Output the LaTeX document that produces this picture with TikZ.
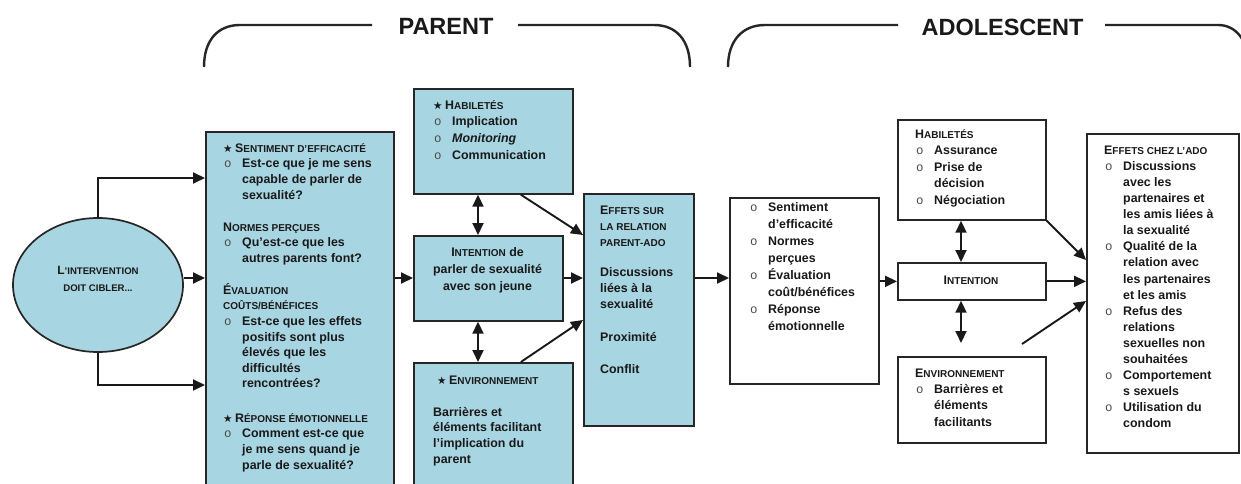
\documentclass[tikz,border=0pt]{standalone}
\usepackage{fontspec}
\setmainfont{Liberation Sans}
\newfontfamily\monof{Liberation Mono}
\newfontfamily\symf{DejaVu Sans}
\usetikzlibrary{arrows.meta,shapes.geometric}
\definecolor{boxblue}{RGB}{168,213,226}
\newcommand\bu{\makebox[19pt][l]{\hspace{1pt}{\monof\mdseries\color{black!70}o}}}
\newcommand\cn{\hspace*{19pt}}
\newcommand\st{{\symf\fontsize{10.5}{10}\selectfont ★}\hspace{2.5pt}}
\newcommand\scH[2]{#1{\fontsize{10}{10}\selectfont #2}}
\newcommand\fst{\rule{0pt}{11.5pt}}
\begin{document}
\begin{tikzpicture}[x=1pt,y=-1pt,
  bluebox/.style={draw=black!85,line width=1.7pt,fill=boxblue,inner sep=0pt,anchor=north west},
  whitebox/.style={draw=black!85,line width=1.7pt,fill=white,inner sep=0pt,anchor=north west},
  txt/.style={inner sep=0pt,anchor=north west,align=left,font=\bfseries\fontsize{12.4}{15.6}\selectfont,text=black!90},
  ctxt/.style={inner sep=0pt,align=center,font=\bfseries\fontsize{12.4}{17}\selectfont,text=black!90},
  arr/.style={line width=1.9pt,draw=black!90,-{Triangle[length=12pt,width=11pt]}},
  darr/.style={line width=1.9pt,draw=black!90,{Triangle[length=12pt,width=11pt]}-{Triangle[length=12pt,width=11pt]}},
  brk/.style={line width=2.4pt,draw=black!85},
  head/.style={inner sep=0pt,font=\bfseries\fontsize{23.5}{24}\selectfont,text=black!90}]
\useasboundingbox (0,0) rectangle (1241,484);
\clip (0,0) rectangle (1241,484);

% brackets
\node[head] (PAR) at (446,26.5) {PARENT};
\node[head] (ADO) at (1002.5,27) {ADOLESCENT};
\draw[brk] (204,67) .. controls (204,40) and (218,25) .. (240,25) -- (372,25);
\draw[brk] (518,25) -- (654,25) .. controls (676,25) and (690,40) .. (690,67);
\draw[brk] (728,67) .. controls (728,40) and (743,25) .. (765,25) -- (898,25);
\draw[brk] (1105,25) -- (1218,25) .. controls (1236,25) and (1248,40) .. (1250,67);

% boxes
\node[draw=black!85,line width=1.7pt,fill=boxblue,ellipse,minimum width=170pt,minimum height=134pt,inner sep=0pt] (E) at (98,285) {};
\node[bluebox,minimum width=188pt,minimum height=380pt] (L) at (205,131) {};
\node[bluebox,minimum width=159pt,minimum height=105pt] (HP) at (413,88) {};
\node[bluebox,minimum width=149pt,minimum height=85pt] (IP) at (413,235) {};
\node[bluebox,minimum width=159pt,minimum height=150pt] (EnvP) at (413,362) {};
\node[bluebox,minimum width=110pt,minimum height=232pt] (EP) at (583,193) {};
\node[whitebox,minimum width=149pt,minimum height=186pt] (M) at (729,197) {};
\node[whitebox,minimum width=148pt,minimum height=100pt] (HA) at (897,119) {};
\node[whitebox,minimum width=148pt,minimum height=37pt] (IA) at (897,262) {};
\node[whitebox,minimum width=148pt,minimum height=86pt] (EnvA) at (897,356) {};
\node[whitebox,minimum width=152pt,minimum height=319pt] (EA) at (1086,133) {};

% texts
\node[ctxt,font=\bfseries\fontsize{12}{17}\selectfont] (Et) at (98,279) {{\fontsize{12}{11}\selectfont L}{\fontsize{9.6}{9}\selectfont ’INTERVENTION}\\{\fontsize{9.6}{9}\selectfont DOIT CIBLER...}};

\node[txt] (Lt) at (223,140.5) {\fst\st\scH{S}{ENTIMENT D’EFFICACITÉ}\\
\bu Est-ce que je me sens\\
\cn capable de parler de\\
\cn sexualité?\\[16.6pt]
\scH{N}{ORMES PERÇUES}\\
\bu Qu’est-ce que les\\
\cn autres parents font?\\[16.2pt]
\scH{É}{VALUATION}\\
\scH{}{COÛTS/BÉNÉFICES}\\
\bu Est-ce que les effets\\
\cn positifs sont plus\\
\cn élevés que les\\
\cn difficultés\\
\cn rencontrées?\\[18.8pt]
\st\scH{R}{ÉPONSE ÉMOTIONNELLE}\\
\bu Comment est-ce que\\
\cn je me sens quand je\\
\cn parle de sexualité?};

\node[txt,font=\bfseries\fontsize{12.4}{16.7}\selectfont] (HPt) at (433,97.5) {\fst\st\scH{H}{ABILETÉS}\\
\bu Implication\\
\bu \textit{Monitoring}\\
\bu Communication};

\node[ctxt] (IPt) at (487.5,270) {\scH{I}{NTENTION} de\\parler de sexualité\\avec son jeune};

\node[txt] (EnvPt) at (433,372.5) {\fst\hspace*{4pt}\st\scH{E}{NVIRONNEMENT}\\[16.4pt]
Barrières et\\
éléments facilitant\\
l’implication du\\
parent};

\node[txt,font=\bfseries\fontsize{12.4}{16}\selectfont] (EPt) at (600,202.5) {\fst\scH{E}{FFETS SUR}\\
\scH{}{LA RELATION}\\
\scH{}{PARENT-ADO}\\[14pt]
Discussions\\
liées à la\\
sexualité\\[17pt]
Proximité\\[16pt]
Conflit};

\node[txt,font=\bfseries\fontsize{12.4}{17}\selectfont] (Mt) at (749,199.5) {\fst\bu Sentiment\\
\cn d’efficacité\\
\bu Normes\\
\cn perçues\\
\bu Évaluation\\
\cn coût/bénéfices\\
\bu Réponse\\
\cn émotionnelle};

\node[txt,font=\bfseries\fontsize{12.4}{16.5}\selectfont] (HAt) at (915,126.5) {\fst\scH{H}{ABILETÉS}\\
\bu Assurance\\
\bu Prise de\\
\cn décision\\
\bu Négociation};

\node[ctxt] (IAt) at (971,280.5) {\scH{I}{NTENTION}};

\node[txt,font=\bfseries\fontsize{12.4}{16.3}\selectfont] (EnvAt) at (915,365.5) {\fst\scH{E}{NVIRONNEMENT}\\
\bu Barrières et\\
\cn éléments\\
\cn facilitants};

\node[txt,font=\bfseries\fontsize{12.4}{16.1}\selectfont] (EAt) at (1104,142.5) {\fst\scH{E}{FFETS CHEZ L’ADO}\\
\bu Discussions\\
\cn avec les\\
\cn partenaires et\\
\cn les amis liées à\\
\cn la sexualité\\
\bu Qualité de la\\
\cn relation avec\\
\cn les partenaires\\
\cn et les amis\\
\bu Refus des\\
\cn relations\\
\cn sexuelles non\\
\cn souhaitées\\
\bu Comportement\\
\cn s sexuels\\
\bu Utilisation du\\
\cn condom};

% connectors
\coordinate (row) at (0,278);
\draw[arr] ([yshift=7pt]E.east) -- (L.west |- row);
\draw[arr] (E.north) |- ([yshift=-47pt]L.north west);
\draw[arr] (E.south) |- ([yshift=-254pt]L.north west);
\draw[arr] (L.east |- row) -- (IP.west |- row);
\draw[arr] (IP.east |- row) -- (EP.west |- row);
\draw[arr] (EP.east |- row) -- (M.west |- row);
\draw[arr] (M.east |- IA.west) -- (IA.west);
\draw[arr] (IA.east) -- (EA.west |- IA.east);
\coordinate (dx1) at (478,0);
\draw[darr] (HP.south -| dx1) -- (IP.north -| dx1);
\draw[darr] (IP.south -| dx1) -- (EnvP.north -| dx1);
\draw[arr] ([xshift=27.5pt]HP.south) -- ([yshift=-42pt]EP.north west);
\draw[arr] ([xshift=27.5pt]EnvP.north) -- ([yshift=-127pt]EP.north west);
\coordinate (dx2) at (961,0);
\draw[darr] (HA.south -| dx2) -- (IA.north -| dx2);
\coordinate (envtip) at (961,343);
\draw[darr] (IA.south -| dx2) -- (envtip);
\coordinate (envstart) at (1022,344);
\draw[arr] (HA.south east) -- ([yshift=-127pt]EA.north west);
\draw[arr] (envstart) -- ([yshift=-168pt]EA.north west);
\end{tikzpicture}
\end{document}
